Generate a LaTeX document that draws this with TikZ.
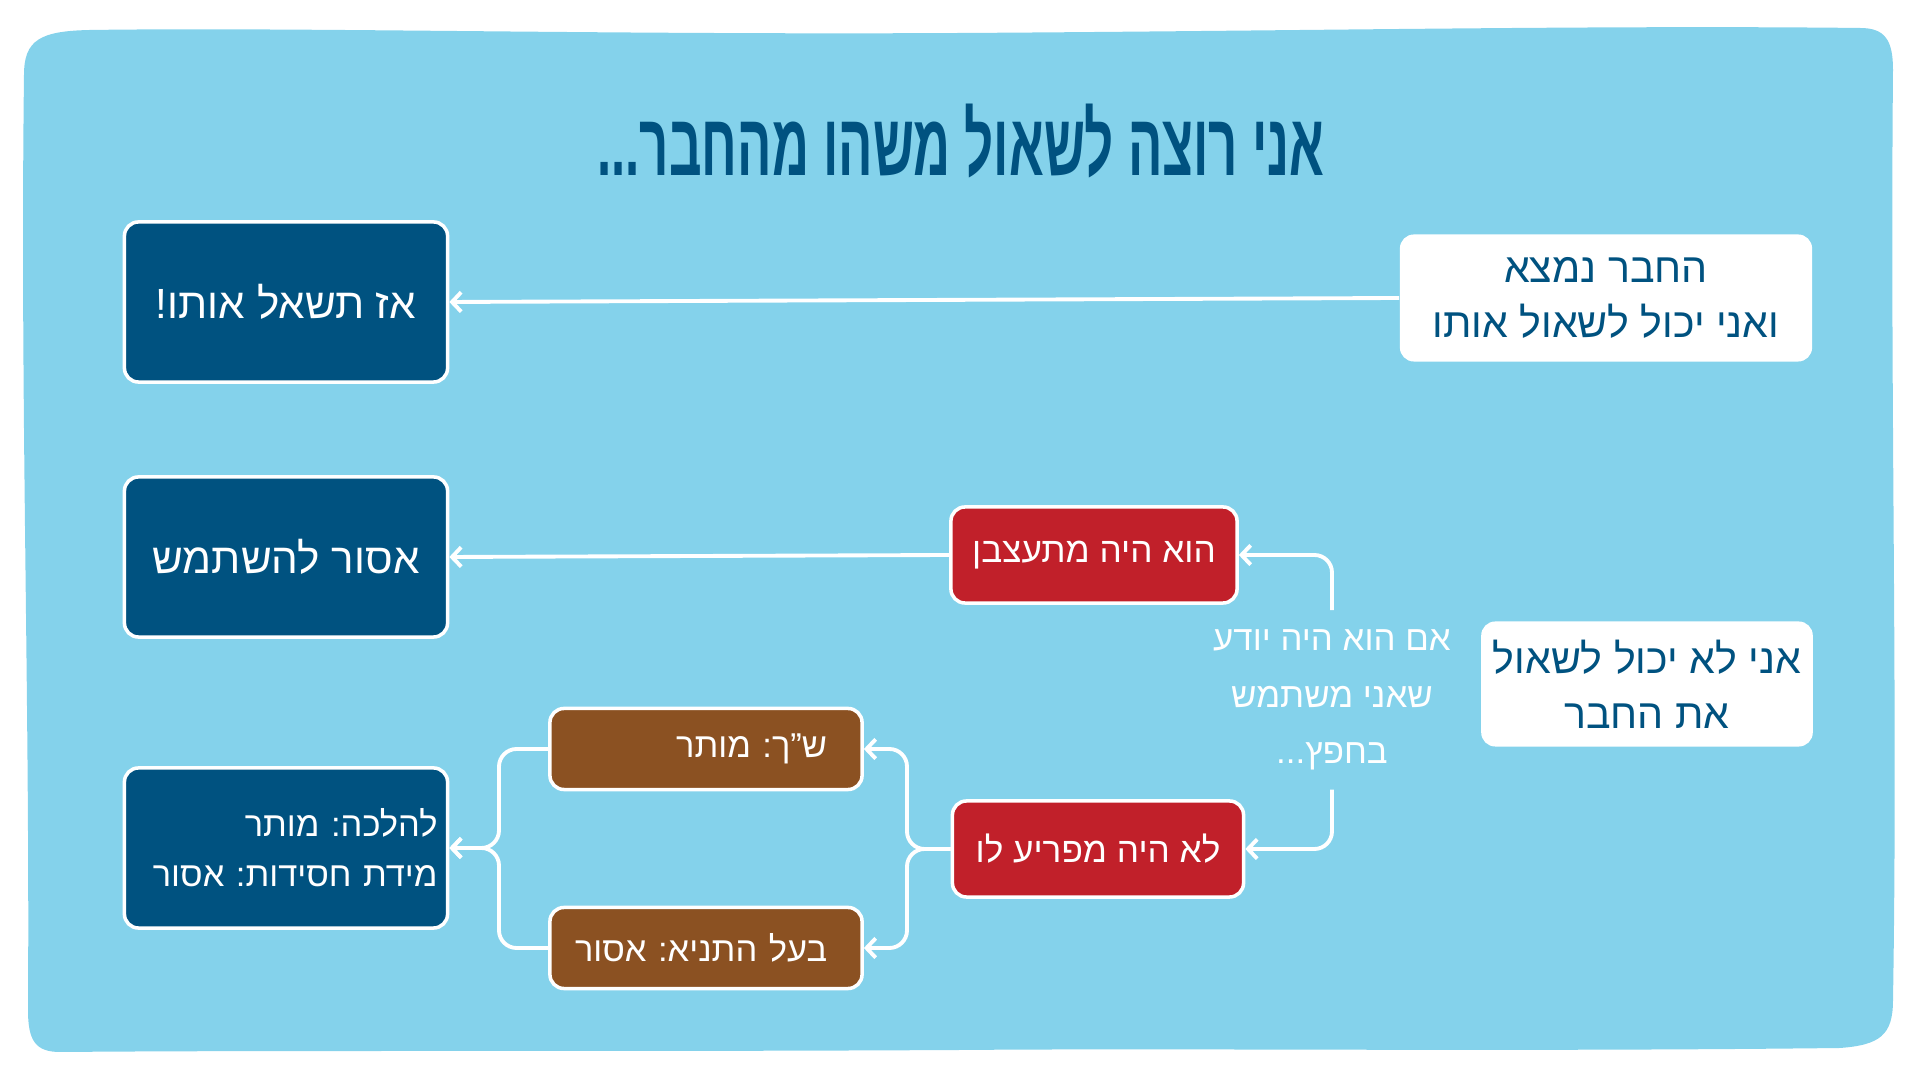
\documentclass[tikz,border=0pt]{standalone}
\usepackage{fontspec}
\usepackage{xcolor}
\usepackage{tikz}
\usetikzlibrary{calc}
\usetikzlibrary{positioning}
\usetikzlibrary{arrows.meta}
\TeXXeTstate=1
\frenchspacing
\newfontfamily\hebfont[Script=Hebrew]{Liberation Sans}
\definecolor{skyblue}{RGB}{132,210,235}
\definecolor{deepblue}{RGB}{0,82,128}
\definecolor{alertred}{RGB}{193,32,42}
\definecolor{rabbibrown}{RGB}{139,81,34}
\newcommand{\heb}[1]{\beginR #1\endR}

\begin{document}
\begin{tikzpicture}[x=0.01cm, y=-0.01cm,
	box/.style={rounded corners=4pt, draw=white, line width=1pt, text=white, inner sep=0pt},
	answer/.style={box, fill=deepblue, minimum width=3.23cm, minimum height=1.6cm, font=\hebfont\fontsize{12}{15}\selectfont, align=center},
	feeling/.style={box, fill=alertred, minimum height=0.96cm, font=\hebfont\fontsize{10}{12}\selectfont},
	opinion/.style={box, fill=rabbibrown, minimum width=3.12cm, minimum height=0.81cm, text width=2.92cm, align=right, font=\hebfont\fontsize{9.8}{12}\selectfont},
	case/.style={rounded corners=4pt, fill=white, text=deepblue, align=center, font=\hebfont\fontsize{11.7}{15.6}\selectfont},
	link/.style={draw=white, line width=1.1pt, rounded corners=5pt, ->, >={Straight Barb[length=2.6pt, width=5.5pt]}},
]
	\useasboundingbox (0, 0) rectangle (1920, 1080);
	% wobbly background sheet
	\fill[skyblue] (24, 75) .. controls (24, 40) and (40, 31) .. (90, 30)
		.. controls (300, 27) and (600, 35) .. (960, 33)
		.. controls (1300, 31) and (1600, 25) .. (1860, 28)
		.. controls (1885, 28) and (1893, 40) .. (1893, 70)
		.. controls (1890, 400) and (1898, 700) .. (1893, 1000)
		.. controls (1893, 1035) and (1880, 1045) .. (1840, 1048)
		.. controls (1500, 1052) and (1200, 1048) .. (960, 1050)
		.. controls (600, 1052) and (300, 1050) .. (60, 1052)
		.. controls (35, 1052) and (28, 1040) .. (28, 1010)
		.. controls (30, 700) and (20, 400) .. (24, 75) -- cycle;
	\node[text=deepblue, font=\hebfont\bfseries\fontsize{25}{28}\selectfont] (title) at (961, 141) {\scalebox{0.58}[1]{\heb{אני רוצה לשאול משהו מהחבר...}}};
	% the two cases
	\node[case, minimum width=4.12cm, minimum height=1.27cm] (case1) at (1606, 298) {\heb{החבר נמצא}\\\heb{ואני יכול לשאול אותו}};
	\node[case, minimum width=3.3cm, minimum height=1.25cm] (case2) at (1647, 684) {\heb{אני לא יכול לשאול}\\\heb{את החבר}};
	% answers
	\node[answer] (res1) at (286, 302) {\heb{אז תשאל אותו!}};
	\node[answer] (res2) at (286, 557) {\heb{אסור להשתמש}};
	\node[answer, text width=3.03cm, align=right, font=\hebfont\fontsize{9.8}{14.3}\selectfont] (res3) at (286, 848) {\heb{להלכה: מותר}\\\heb{מידת חסידות: אסור}};
	% how the friend would feel
	\node[feeling, minimum width=2.86cm] (upset) at (1094, 555) {\heb{הוא היה מתעצבן}};
	\node[feeling, minimum width=2.91cm] (fine) at (1098, 849) {\heb{לא היה מפריע לו}};
	\node[text=white, align=center, minimum height=1.78cm, inner sep=0pt, font=\hebfont\fontsize{9.9}{16}\selectfont] (note) at (1332, 700) {\heb{אם הוא היה יודע}\\\heb{שאני משתמש}\\\heb{בחפץ...}};
	% the two opinions
	\node[opinion] (shach) at (706, 749) {\heb{ש”ך: מותר}\hspace*{0.25cm}};
	\node[opinion] (tanya) at (706, 948) {\heb{בעל התניא: אסור}\hspace*{0.25cm}};
	\coordinate (fork) at (907, 849);
	\coordinate (merge) at (499, 848);
	% connectors
	\draw[link] (case1.west) -- (res1.east);
	\draw[link] (upset.west) -- (res2.east);
	\draw[link] (note.north) |- (upset.east);
	\draw[link] (note.south) |- (fine.east);
	\draw[link] (fine.west) -- (fork) |- (shach.east);
	\draw[link] (fine.west) -- (fork) |- (tanya.east);
	\draw[link] (shach.west) -| (merge) -- (res3.east);
	\draw[link] (tanya.west) -| (merge) -- (res3.east);
\end{tikzpicture}
\end{document}
